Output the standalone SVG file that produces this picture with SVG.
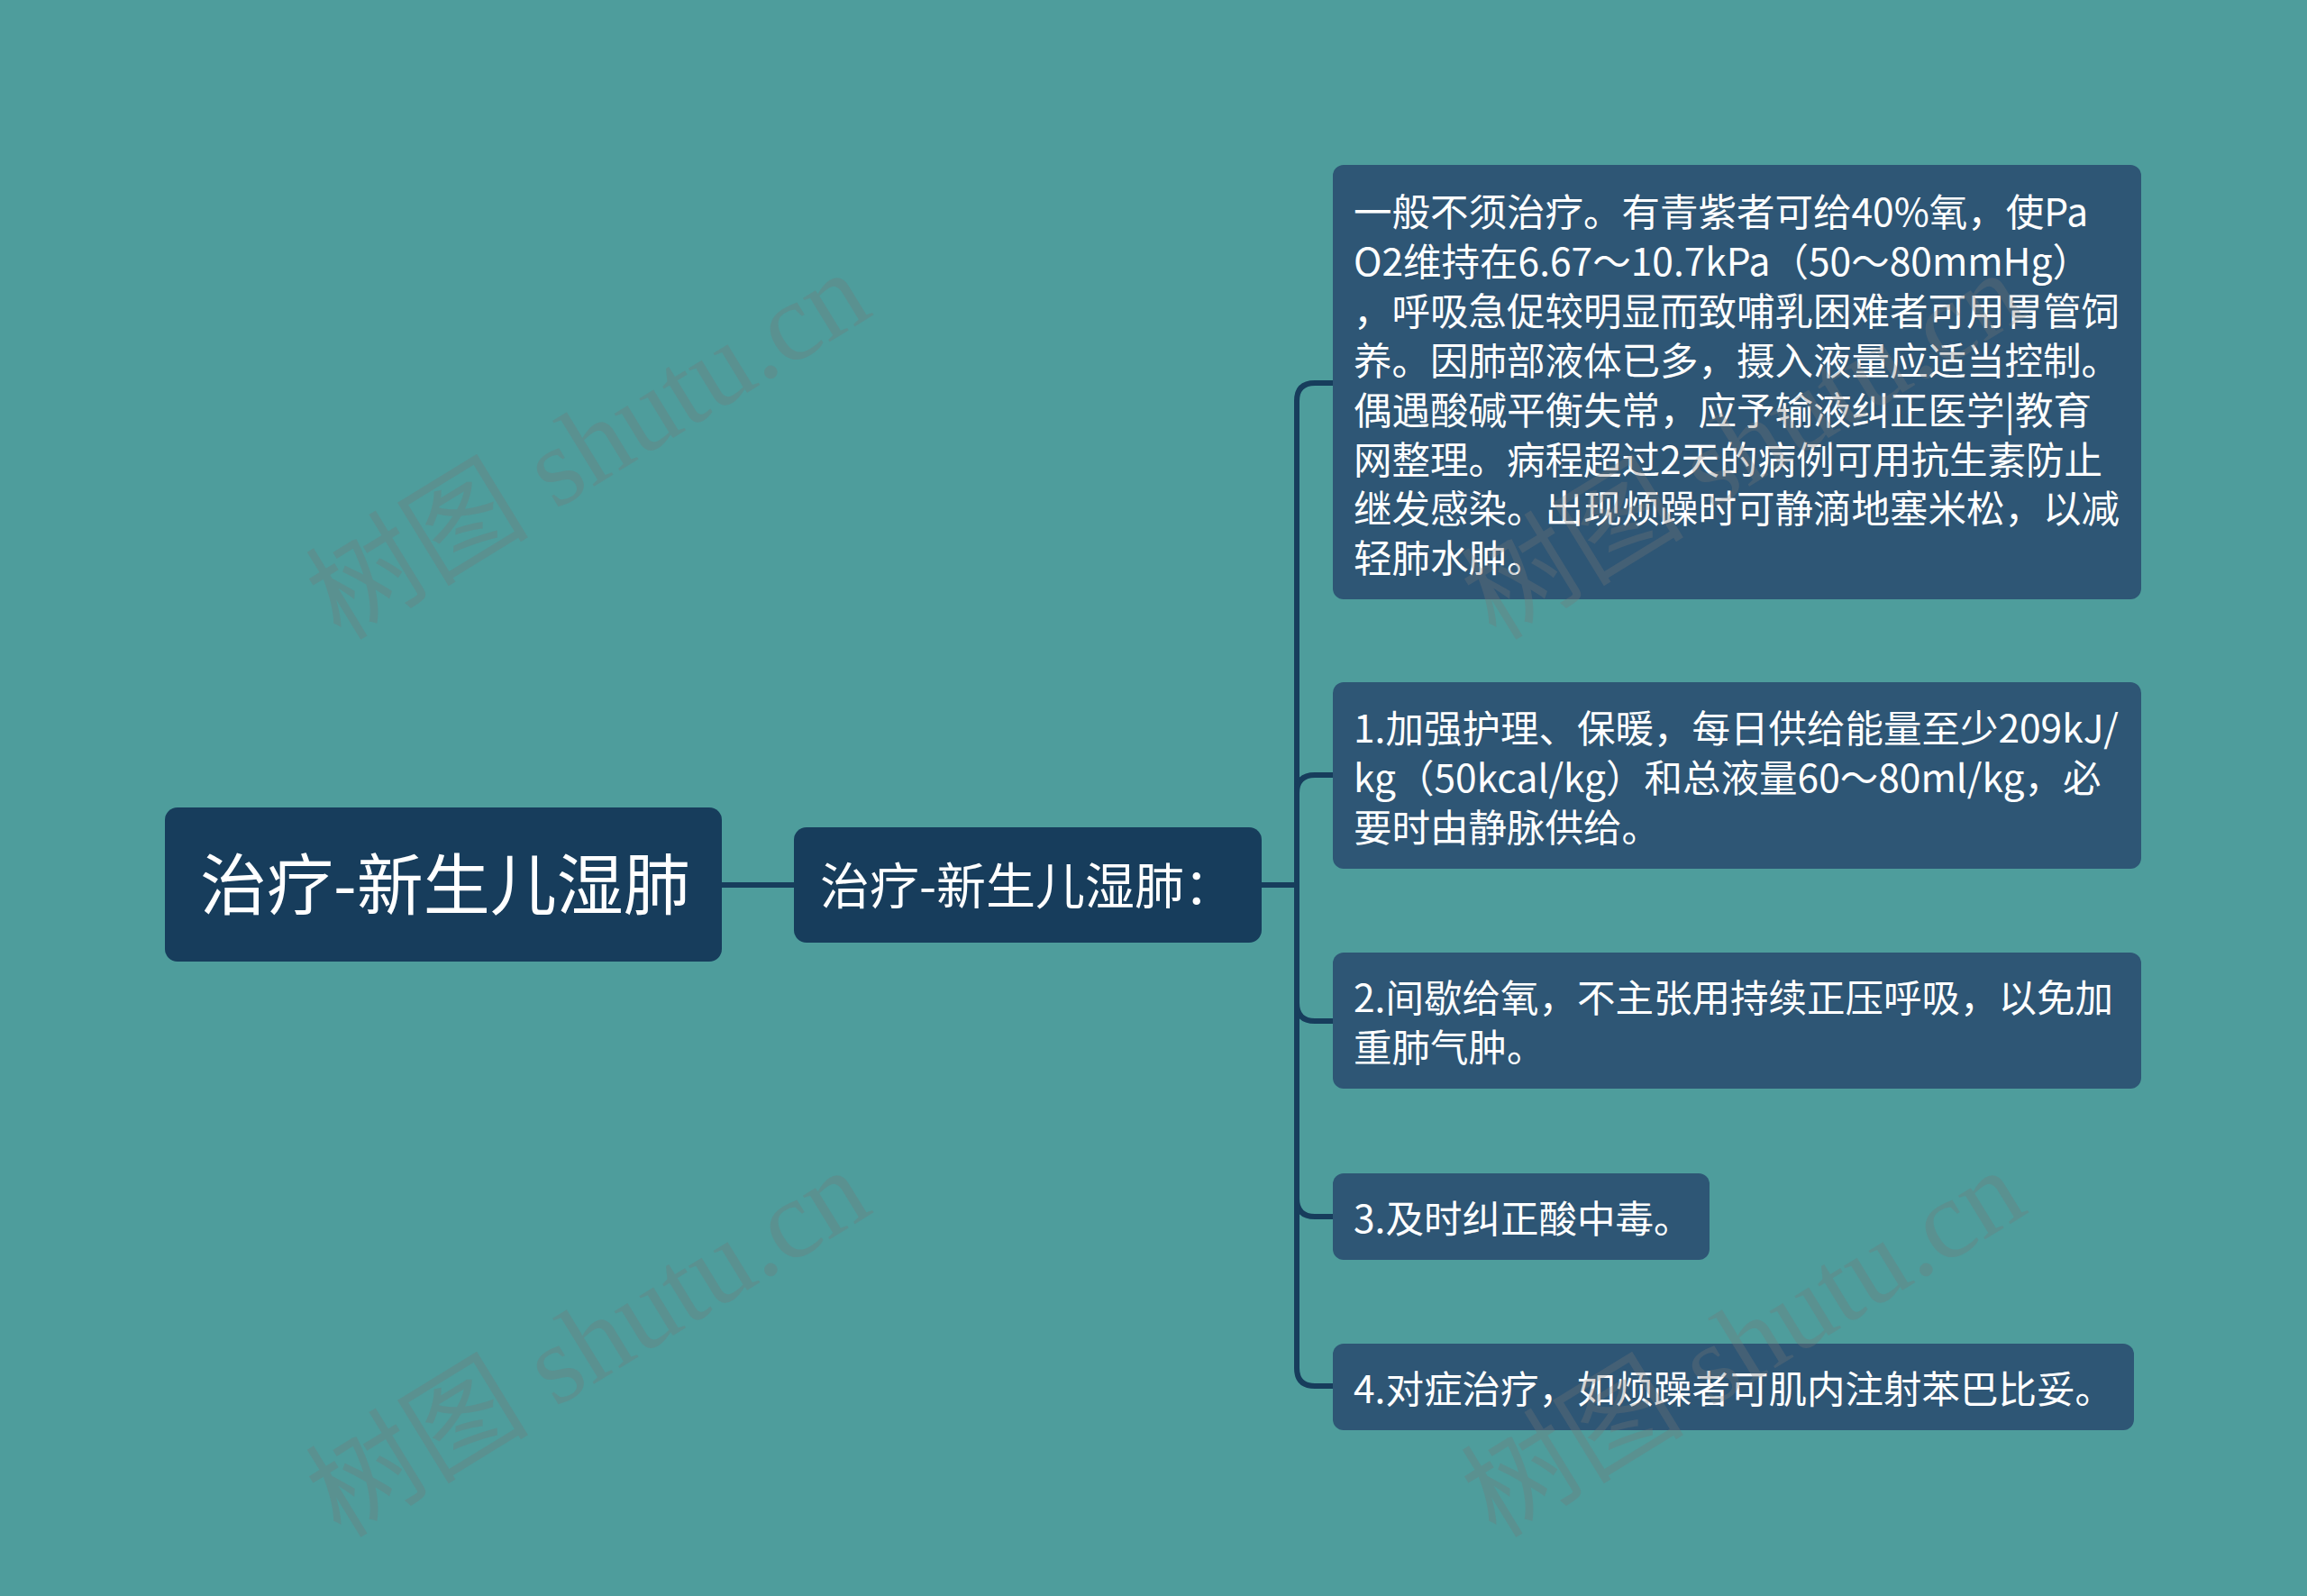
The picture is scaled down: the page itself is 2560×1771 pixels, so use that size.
<svg xmlns="http://www.w3.org/2000/svg" width="2560" height="1771" viewBox="0 0 2560 1771">
<style>
.bg{fill:#4e9d9c}
.dark{fill:#173d5c}
.leaf{fill:#2e5675}
.t{font-family:"Noto Sans CJK SC","Microsoft YaHei",sans-serif;fill:#ffffff}
.lt{font-size:42.5px}
.conn{fill:none;stroke:#173d5c;stroke-width:6;stroke-linecap:round}
.wm{font-family:"Liberation Serif","Noto Sans CJK SC",serif;font-size:124px;fill:#777777;opacity:0.3}
</style>
<rect class="bg" x="0" y="0" width="2560" height="1771"/>
<g id="connectors">
<path class="conn" d="M801 982 H881"/>
<path class="conn" d="M1400 982 H1439 V445 Q1439 425 1459 425 H1480"/>
<path class="conn" d="M1400 982 H1439 V880 Q1439 860 1459 860 H1480"/>
<path class="conn" d="M1400 982 H1439 V1113 Q1439 1133 1459 1133 H1480"/>
<path class="conn" d="M1400 982 H1439 V1330 Q1439 1350 1459 1350 H1480"/>
<path class="conn" d="M1400 982 H1439 V1518 Q1439 1538 1459 1538 H1480"/>
</g>
<g id="root">
<rect class="dark" x="183" y="896" width="618" height="171" rx="14"/>
<text class="t" x="222" y="1009" font-size="74">治疗-新生儿湿肺</text>
</g>
<g id="mid">
<rect class="dark" x="881" y="918" width="519" height="128" rx="14"/>
<text class="t" x="910" y="1003" font-size="55">治疗-新生儿湿肺：</text>
</g>
<g id="n1">
<rect class="leaf" x="1479" y="183" width="897" height="482" rx="12"/>
<text class="t lt" x="1502">
<tspan x="1502" y="251">一般不须治疗。有青紫者可给40%氧，使Pa</tspan>
<tspan x="1502" y="306">O2维持在6.67～10.7kPa（50～80mmHg）</tspan>
<tspan x="1502" y="361">，呼吸急促较明显而致哺乳困难者可用胃管饲</tspan>
<tspan x="1502" y="416">养。因肺部液体已多，摄入液量应适当控制。</tspan>
<tspan x="1502" y="471">偶遇酸碱平衡失常，应予输液纠正医学|教育</tspan>
<tspan x="1502" y="526">网整理。病程超过2天的病例可用抗生素防止</tspan>
<tspan x="1502" y="580">继发感染。出现烦躁时可静滴地塞米松，以减</tspan>
<tspan x="1502" y="635">轻肺水肿。</tspan>
</text>
</g>
<g id="n2">
<rect class="leaf" x="1479" y="757" width="897" height="207" rx="12"/>
<text class="t lt">
<tspan x="1502" y="824">1.加强护理、保暖，每日供给能量至少209kJ/</tspan>
<tspan x="1502" y="879">kg（50kcal/kg）和总液量60～80ml/kg，必</tspan>
<tspan x="1502" y="934">要时由静脉供给。</tspan>
</text>
</g>
<g id="n3">
<rect class="leaf" x="1479" y="1057" width="897" height="151" rx="12"/>
<text class="t lt">
<tspan x="1502" y="1123">2.间歇给氧，不主张用持续正压呼吸，以免加</tspan>
<tspan x="1502" y="1178">重肺气肿。</tspan>
</text>
</g>
<g id="n4">
<rect class="leaf" x="1479" y="1302" width="418" height="96" rx="12"/>
<text class="t lt" x="1502" y="1368">3.及时纠正酸中毒。</text>
</g>
<g id="n5">
<rect class="leaf" x="1479" y="1491" width="889" height="96" rx="12"/>
<text class="t lt" x="1502" y="1557">4.对症治疗，如烦躁者可肌内注射苯巴比妥。</text>
</g>
<g id="watermarks">
<text class="wm" x="378" y="712" transform="rotate(-31.5 378 712)">树图 shutu.cn</text>
<text class="wm" x="378" y="1708" transform="rotate(-31.5 378 1708)">树图 shutu.cn</text>
<text class="wm" x="1660" y="712" transform="rotate(-31.5 1660 712)">树图 shutu.cn</text>
<text class="wm" x="1660" y="1708" transform="rotate(-31.5 1660 1708)">树图 shutu.cn</text>
</g>
</svg>
